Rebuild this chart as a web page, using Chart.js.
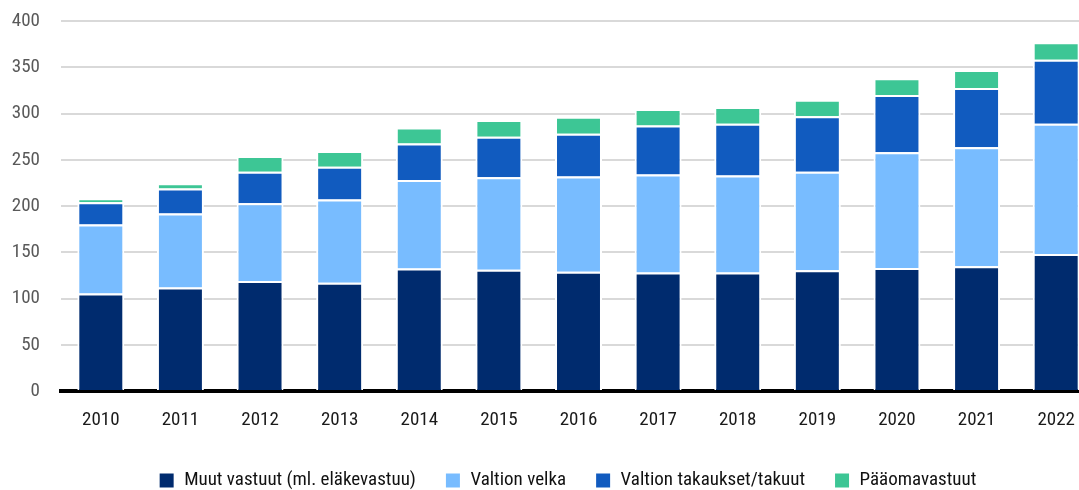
<!DOCTYPE html>
<html>
<head>
<meta charset="utf-8">
<script src="https://cdn.jsdelivr.net/npm/chart.js@4/dist/chart.umd.min.js"></script>
<style>
  html, body { margin: 0; padding: 0; background: #fff; overflow: hidden; }
  #wrap { position: relative; width: 1096px; height: 500px; }
</style>
</head>
<body>
<div id="wrap"><canvas id="vastuut"></canvas></div>
<script>
// Vuodet ja sarjat (mrd. euroa)
const years = ['2010', '2011', '2012', '2013', '2014', '2015', '2016', '2017', '2018', '2019', '2020', '2021', '2022'];
const muutVastuut = [105.5, 112, 119, 117, 132.5, 131, 129, 128, 128, 130.5, 133, 135, 148];
const valtionVelka = [74.5, 80, 84, 90, 95.5, 100, 103, 106, 105, 106.5, 125, 128.5, 141];
const takaukset = [24, 27, 34, 35.5, 39.5, 44, 46, 53, 56, 60, 62, 64, 69];
const paaomavastuut = [4.5, 5.5, 17, 17, 17.5, 18, 18.5, 18, 18, 18, 18, 19.5, 19];
const yTicks = [0, 50, 100, 150, 200, 250, 300, 350, 400];

const FONT = '"Roboto Condensed", "Liberation Sans Narrow", sans-serif';

function series(label, data, color) {
    return {
        label,
        data,
        backgroundColor: color,
        borderColor: '#ffffff',
        borderWidth: 2,
        categoryPercentage: 1,
        barPercentage: 0.59
    };
}

// nudge the legend row a bit left of the plot centre
const legendShift = {
    id: 'legendShift',
    afterLayout(chart) {
        if (chart.legend) {
            chart.legend.left -= 11;
            chart.legend.right -= 11;
        }
    }
};

const ctx = document.getElementById('vastuut').getContext('2d');
new Chart(ctx, {
    type: 'bar',
    data: {
        labels: years,
        datasets: [
            series('Muut vastuut (ml. eläkevastuu)', muutVastuut, '#002B6E'),
            series('Valtion velka', valtionVelka, '#78BCFF'),
            series('Valtion takaukset/takuut', takaukset, '#115BBF'),
            series('Pääomavastuut', paaomavastuut, '#3DC695')
        ]
    },
    plugins: [legendShift],
    options: {
        responsive: true,
        maintainAspectRatio: false,
        animation: false,
        layout: { padding: { top: 21, left: 0, right: 0, bottom: 0 } },
        scales: {
            x: {
                stacked: true,
                grid: { display: false, drawTicks: false },
                border: { display: true, color: '#000000', width: 4 },
                ticks: {
                    color: '#1a1a1a',
                    padding: 18,
                    font: { family: FONT, size: 19 }
                },
                afterFit: (scale) => { scale.height = 51; }
            },
            y: {
                stacked: true,
                min: 0,
                max: 400,
                afterBuildTicks: (scale) => { scale.ticks = yTicks.map(v => ({ value: v })); },
                grid: { color: '#d9d9d9', lineWidth: 2, drawTicks: false },
                border: { display: false },
                ticks: {
                    color: '#595959',
                    padding: 21,
                    font: { family: FONT, size: 19 }
                },
                afterFit: (scale) => {
                    scale.width = 61;
                    // top label may overhang; the layout padding already leaves room
                    scale.paddingTop = 0;
                    scale.paddingBottom = 0;
                }
            }
        },
        plugins: {
            tooltip: { enabled: false },
            legend: {
                position: 'bottom',
                fullSize: false,
                labels: {
                    boxWidth: 16,
                    boxHeight: 16,
                    padding: 29,
                    color: '#111111',
                    font: { family: FONT, size: 19 }
                }
            }
        }
    }
});
</script>
</body>
</html>
